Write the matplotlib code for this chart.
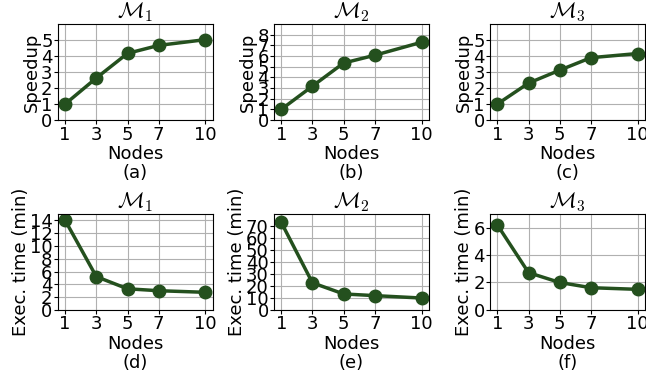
import matplotlib
matplotlib.use('Agg')
import matplotlib.pyplot as plt

nodes = [1, 3, 5, 7, 10]
node_labels = ['1', '3', '5', '7', '10']

# speedup per model
speedup_m1 = [1.0, 2.63, 4.17, 4.67, 5.03]
speedup_m2 = [1.0, 3.18, 5.35, 6.08, 7.3]
speedup_m3 = [1.0, 2.31, 3.12, 3.9, 4.16]

# execution time in minutes per model
time_m1 = [14.0, 5.2, 3.3, 3.0, 2.75]
time_m2 = [73.0, 22.6, 13.3, 11.9, 9.9]
time_m3 = [6.2, 2.72, 2.0, 1.62, 1.5]

titles = [r'$\mathcal{M}_1$', r'$\mathcal{M}_2$', r'$\mathcal{M}_3$']
panel_tags = ['(a)', '(b)', '(c)', '(d)', '(e)', '(f)']

color = '#24501e'
fs = 13
plt.rcParams['font.size'] = fs
plt.rcParams['mathtext.fontset'] = 'cm'

fig, axes = plt.subplots(2, 3, figsize=(6.46, 3.77), dpi=100)

rows = [
    ('Speedup', [speedup_m1, speedup_m2, speedup_m3],
     [(0, 6), (0, 9), (0, 6)], [range(0, 6), range(0, 9), range(0, 6)]),
    ('Exec. time (min)', [time_m1, time_m2, time_m3],
     [(0, 15), (0, 80), (0, 7)], [range(0, 15, 2), range(0, 80, 10), range(0, 7, 2)]),
]

for r, (ylabel, series, ylims, yticks) in enumerate(rows):
    for c in range(3):
        ax = axes[r][c]
        ax.plot(nodes, series[c], color=color, linewidth=2.5, marker='o', markersize=9)
        ax.set_title(titles[c], fontsize=16, pad=2)
        ax.set_ylim(*ylims[c])
        ax.set_yticks(list(yticks[c]))
        ax.set_xticks(nodes)
        ax.set_xticklabels(node_labels)
        ax.tick_params(labelsize=fs, length=3, pad=1)
        ax.set_ylabel(ylabel, fontsize=fs, labelpad=0)
        ax.set_xlabel('Nodes\n' + panel_tags[r * 3 + c], fontsize=fs, labelpad=1,
                      linespacing=1.1)
        ax.grid(True, color='#b0b0b0', linewidth=0.8)

fig.subplots_adjust(left=0.09, right=0.998, bottom=0.178, top=0.936, wspace=0.4, hspace=0.98)
plt.savefig('out.png')
plt.close()
